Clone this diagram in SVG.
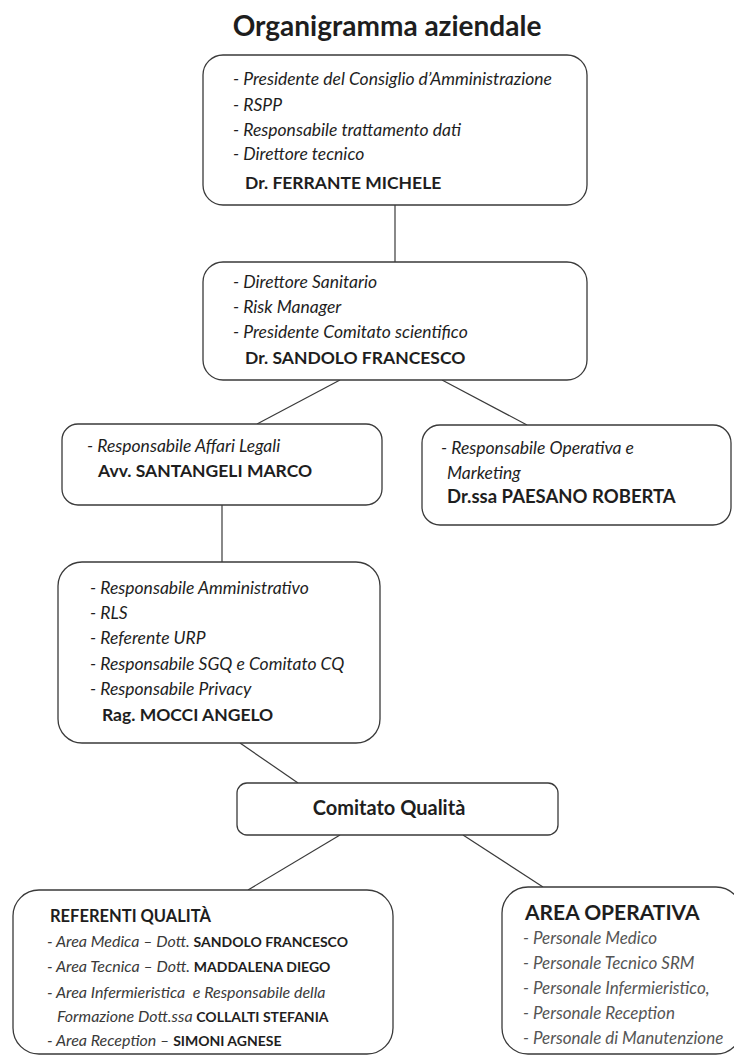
<svg xmlns="http://www.w3.org/2000/svg" width="734" height="1057" viewBox="0 0 734 1057">
<style>
.box{fill:#fff;stroke:#3a3a3a;stroke-width:1.3}
.con line{stroke:#3a3a3a;stroke-width:1.2}
text{font-family:Lato,"Open Sans","Liberation Sans",sans-serif;fill:#1e1e1e}
.it{font-style:italic;font-size:17.5px}
.b{font-weight:bold;font-size:17.5px}
.sm{font-style:italic;font-size:16px;fill:#3a3a3a}
.op{font-style:italic;font-size:17px;fill:#555}
.nb{font-style:normal;font-weight:bold;font-size:14px;fill:#1e1e1e}
</style>
<rect width="734" height="1057" fill="#fff"/>
<text x="387" y="36" text-anchor="middle" style="font-size:28px;font-weight:bold">Organigramma aziendale</text>
<g class="con">
<line x1="395" y1="205" x2="395" y2="262"/>
<line x1="340" y1="380" x2="257" y2="424"/>
<line x1="442" y1="380" x2="527" y2="425"/>
<line x1="222" y1="505" x2="222" y2="562"/>
<line x1="240" y1="743" x2="298" y2="783"/>
<line x1="340" y1="835" x2="248" y2="890"/>
<line x1="463" y1="835" x2="543" y2="887"/>
</g>
<g id="ferrante">
<rect class="box" x="203" y="55" width="384" height="150" rx="20"/>
<text class="it" x="233" y="85">- Presidente del Consiglio d’Amministrazione</text>
<text class="it" x="233" y="111">- RSPP</text>
<text class="it" x="233" y="136">- Responsabile trattamento dati</text>
<text class="it" x="233" y="160">- Direttore tecnico</text>
<text class="b" x="245" y="189">Dr. FERRANTE MICHELE</text>
</g>
<g id="sandolo">
<rect class="box" x="203" y="262" width="384" height="118" rx="20"/>
<text class="it" x="233" y="288">- Direttore Sanitario</text>
<text class="it" x="233" y="313">- Risk Manager</text>
<text class="it" x="233" y="338">- Presidente Comitato scientifico</text>
<text class="b" x="245" y="364">Dr. SANDOLO FRANCESCO</text>
</g>
<g id="santangeli">
<rect class="box" x="62" y="424" width="320" height="81" rx="16"/>
<text class="it" x="87" y="452">- Responsabile Affari Legali</text>
<text class="b" x="98" y="477">Avv. SANTANGELI MARCO</text>
</g>
<g id="paesano">
<rect class="box" x="422" y="425" width="309" height="100" rx="18"/>
<text class="it" x="441" y="454">- Responsabile Operativa e</text>
<text class="it" x="447" y="479">Marketing</text>
<text class="b" x="447" y="503" style="font-size:18.5px">Dr.ssa PAESANO ROBERTA</text>
</g>
<g id="mocci">
<rect class="box" x="58" y="562" width="322" height="181" rx="24"/>
<text class="it" x="90" y="594">- Responsabile Amministrativo</text>
<text class="it" x="90" y="619">- RLS</text>
<text class="it" x="90" y="644">- Referente URP</text>
<text class="it" x="90" y="670">- Responsabile SGQ e Comitato CQ</text>
<text class="it" x="90" y="695">- Responsabile Privacy</text>
<text class="b" x="102" y="721">Rag. MOCCI ANGELO</text>
</g>
<g id="comitato">
<rect class="box" x="237" y="783" width="321" height="52" rx="10"/>
<text class="b" x="389" y="815" text-anchor="middle" style="font-size:20px">Comitato Qualità</text>
</g>
<g id="referenti">
<rect class="box" x="13" y="890" width="380" height="164" rx="26"/>
<text class="b" x="50" y="922" style="font-size:16.5px">REFERENTI QUALITÀ</text>
<text class="sm" x="47" y="947">- Area Medica – Dott. <tspan class="nb">SANDOLO FRANCESCO</tspan></text>
<text class="sm" x="47" y="972">- Area Tecnica – Dott. <tspan class="nb">MADDALENA DIEGO</tspan></text>
<text class="sm" x="47" y="998">- Area Infermieristica&#160; e Responsabile della</text>
<text class="sm" x="57" y="1022">Formazione Dott.ssa <tspan class="nb">COLLALTI STEFANIA</tspan></text>
<text class="sm" x="47" y="1046">- Area Reception – <tspan class="nb">SIMONI AGNESE</tspan></text>
</g>
<g id="operativa">
<rect class="box" x="502" y="887" width="240" height="167" rx="26"/>
<text class="b" x="525" y="920" style="font-size:21px">AREA OPERATIVA</text>
<text class="op" x="523" y="944">- Personale Medico</text>
<text class="op" x="523" y="969">- Personale Tecnico SRM</text>
<text class="op" x="523" y="994">- Personale Infermieristico,</text>
<text class="op" x="523" y="1019">- Personale Reception</text>
<text class="op" x="523" y="1044">- Personale di Manutenzione</text>
</g>
</svg>
